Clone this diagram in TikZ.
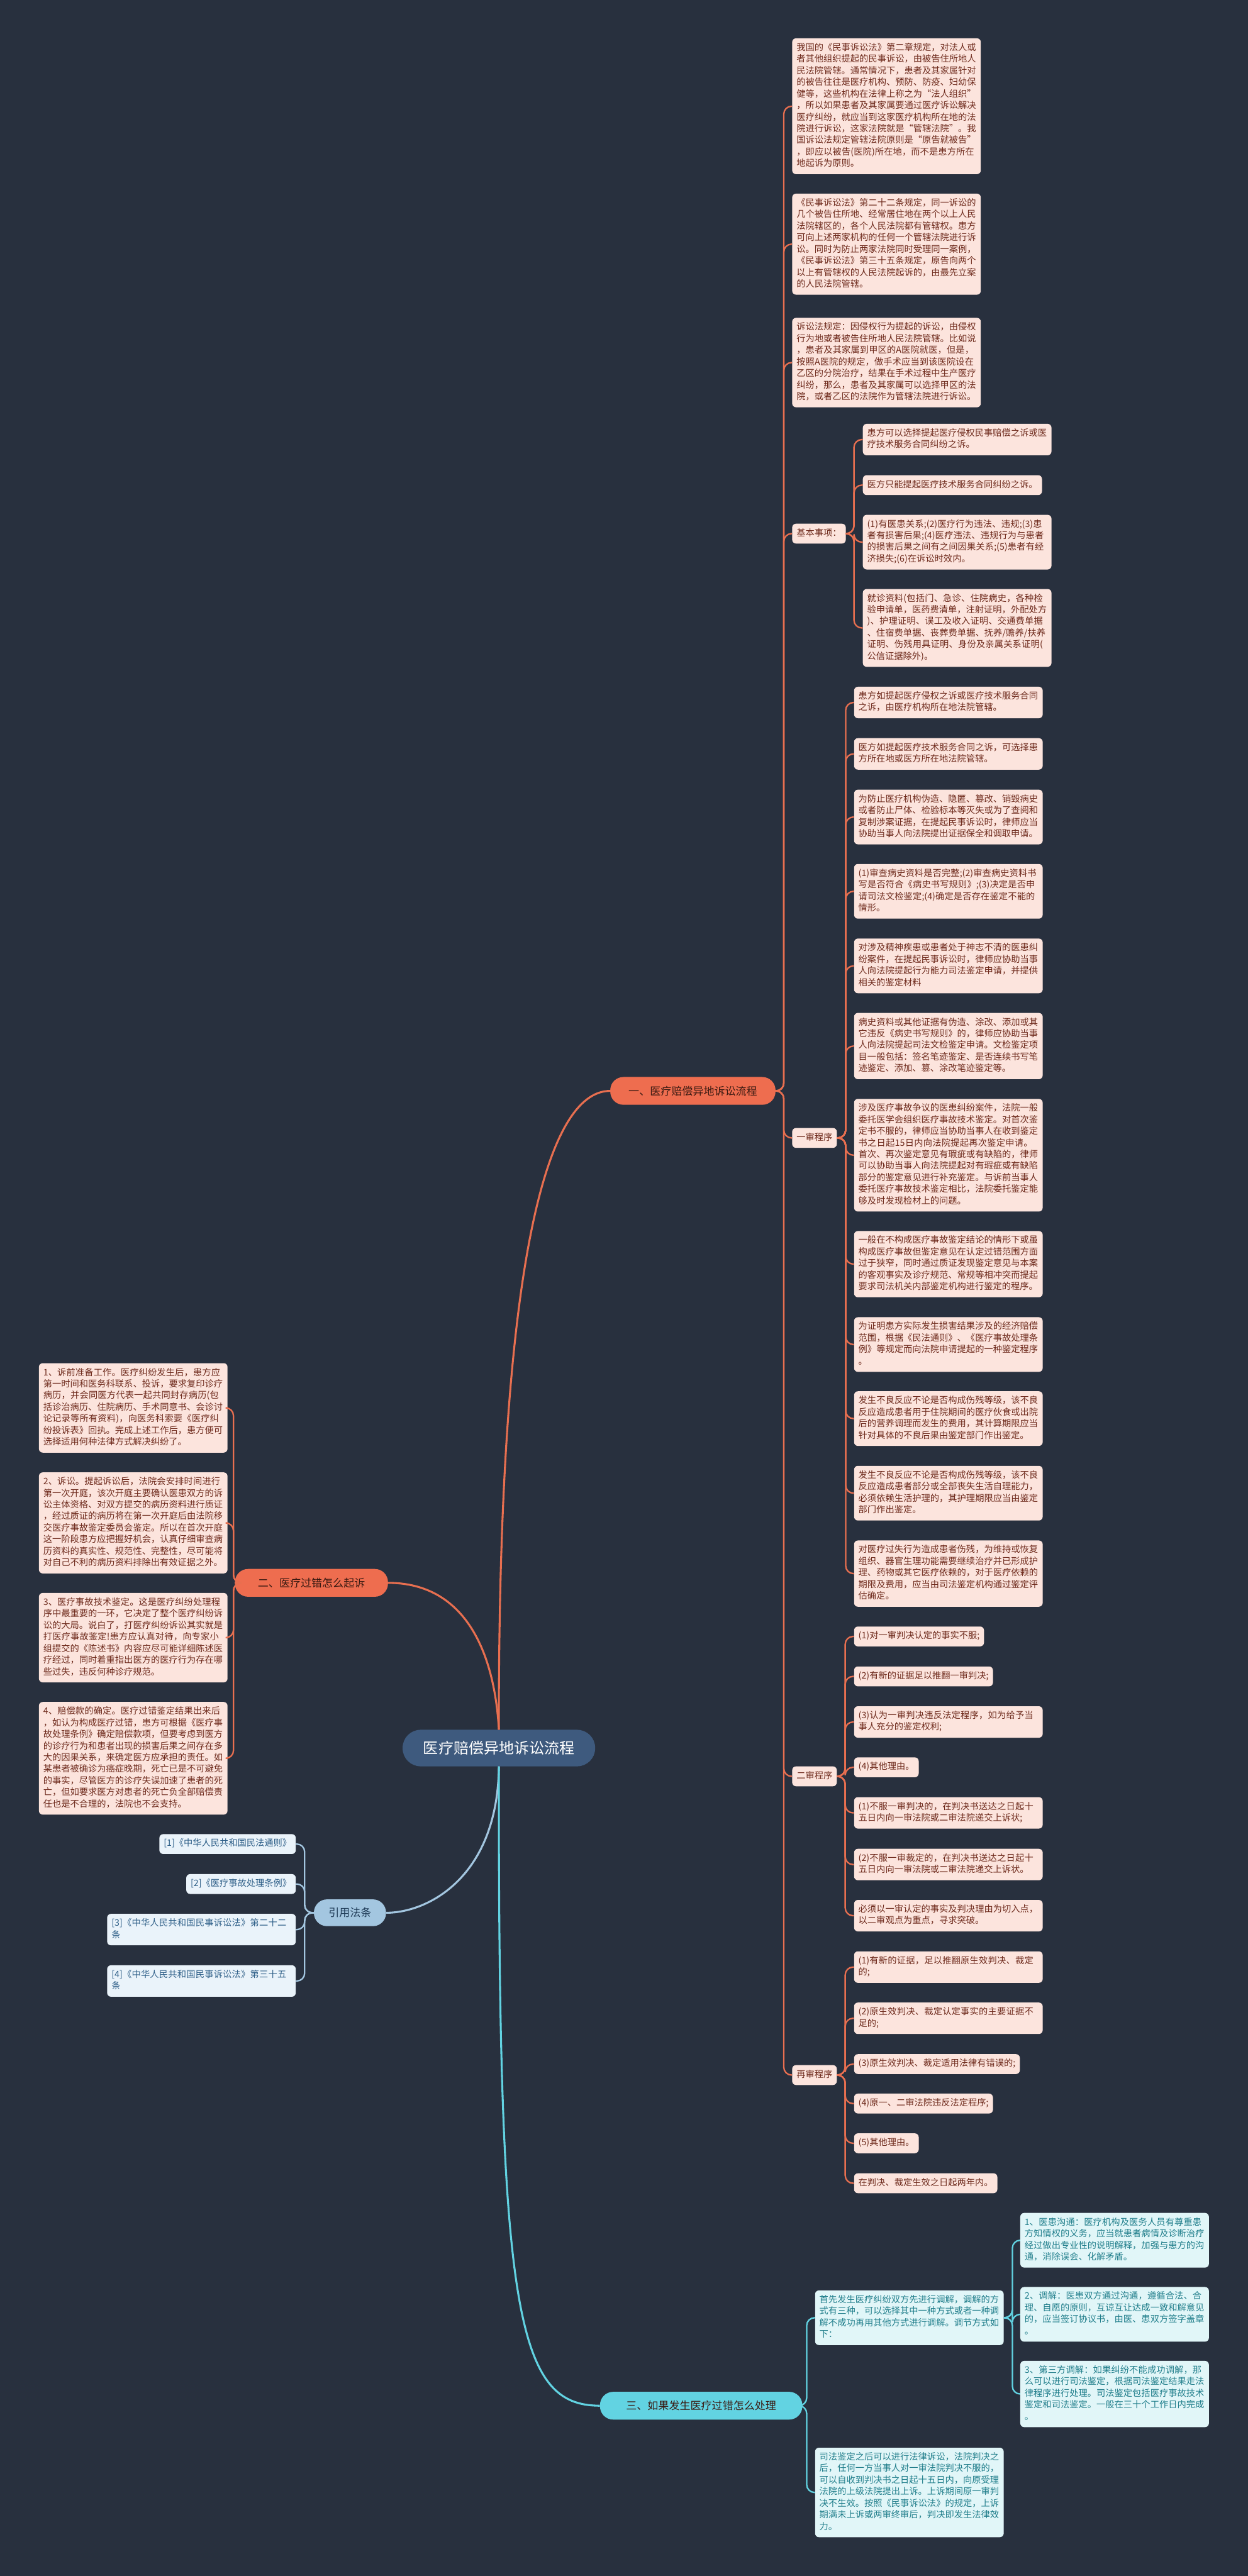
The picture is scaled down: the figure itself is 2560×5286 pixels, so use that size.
\documentclass[tikz,border=0pt]{standalone}
\usepackage{fontspec}
\setmainfont{Noto Sans CJK SC}
% allow a break between any two CJK characters, punctuation included (as in the reference)
\XeTeXinterchartokenstate=1
\newXeTeXintercharclass\cjkc
\newcount\cjkn
\def\setcjkrange#1#2{\cjkn=#1\relax\loop\XeTeXcharclass\cjkn=\cjkc\relax\ifnum\cjkn<#2\advance\cjkn by 1\repeat}
\setcjkrange{"4E00}{"9FFF}
\setcjkrange{"3000}{"303F}
\setcjkrange{"FF00}{"FFEF}
\XeTeXcharclass"201C=\cjkc
\XeTeXcharclass"201D=\cjkc
\XeTeXinterchartoks\cjkc\cjkc={\hskip0pt plus 1pt\relax}
\XeTeXinterchartoks 0 \cjkc={\hskip0pt plus 1pt\relax}
\XeTeXinterchartoks\cjkc 0 ={\hskip0pt plus 1pt\relax}
\tolerance=2000
\definecolor{bg}{HTML}{28303E}
\definecolor{org}{HTML}{EE6D4F}
\definecolor{orgline}{HTML}{E86F50}
\definecolor{pinkfill}{HTML}{FCE4DD}
\definecolor{pinktext}{HTML}{6E2A1C}
\definecolor{darktext}{HTML}{3A1A12}
\definecolor{cyanb}{HTML}{62D3E2}
\definecolor{cyanfill}{HTML}{E1F6F8}
\definecolor{cyantext}{HTML}{207E8B}
\definecolor{bluel}{HTML}{A3C6E0}
\definecolor{bluefill}{HTML}{EAF3FA}
\definecolor{bluetext}{HTML}{2E5F88}
\definecolor{bluedark}{HTML}{1F3B57}
\definecolor{centerfill}{HTML}{3E5A7E}
\tikzset{
  leaf/.style={rectangle, rounded corners=8pt, fill=pinkfill, text=pinktext,
    font=\fontsize{18.4}{23.8}\selectfont, inner xsep=9pt, inner ysep=8.5pt,
    align=left, anchor=west, execute at begin node=\strut, execute at end node=\strut},
  wide/.style={text width=369pt},
  cyanleaf/.style={leaf, fill=cyanfill, text=cyantext},
  blueleaf/.style={leaf, fill=bluefill, text=bluetext},
  pill/.style={rectangle, rounded corners=27pt, fill=org, text=darktext,
    font=\fontsize{22}{26}\selectfont, minimum height=57pt, inner sep=0pt},
  eorg/.style={draw=orgline, line width=3pt, rounded corners=16pt},
  ecyan/.style={draw=cyanb, line width=3pt, rounded corners=16pt},
  eblue/.style={draw=bluel, line width=3pt, rounded corners=16pt},
  emain/.style={line width=4pt},
}
\begin{document}
\begin{tikzpicture}[x=1pt,y=-1pt]
\fill[bg] (0,0) rectangle (2560,5286);
\useasboundingbox (0,0) rectangle (2560,5286);

% ---------- centre and main branches
\node[rectangle, rounded corners=37pt, fill=centerfill, text=white, minimum width=395pt,
  minimum height=75pt, inner sep=0pt, font=\fontsize{31}{36}\selectfont] (c) at (1023.5,3587) {医疗赔偿异地诉讼流程};
\node[pill, minimum width=339pt] (b1) at (1421.5,2238.5) {一、医疗赔偿异地诉讼流程};
\node[pill, minimum width=314pt] (b2) at (639,3248) {二、医疗过错怎么起诉};
\node[pill, minimum width=415pt, fill=cyanb] (b3) at (1438.5,4936.5) {三、如果发生医疗过错怎么处理};
\node[pill, minimum width=148pt, minimum height=55pt, fill=bluel, text=bluedark] (b4) at (718,3925) {引用法条};

\draw[orgline, emain] (c.north) .. controls (1022,2600) and (1120,2238.5) .. (b1.west);
\draw[orgline, emain] (c.north) .. controls (1015,3400) and (960,3248) .. (b2.east);
\draw[bluel, emain] (c.south) .. controls (1021,3850) and (880,3925) .. (b4.east);
\draw[cyanb, emain] (c.south) .. controls (1022,4750) and (1060,4936.5) .. (b3.west);

% ---------- branch 1 : top leaves
\node[leaf,wide] (a1) at (1625,218) {我国的《民事诉讼法》第二章规定，对法人或者其他组织提起的民事诉讼，由被告住所地人民法院管辖。通常情况下，患者及其家属针对的被告往往是医疗机构、预防、防疫、妇幼保健等，这些机构在法律上称之为“法人组织”，所以如果患者及其家属要通过医疗诉讼解决医疗纠纷，就应当到这家医疗机构所在地的法院进行诉讼，这家法院就是“管辖法院”。我国诉讼法规定管辖法院原则是“原告就被告”，即应以被告(医院)所在地，而不是患方所在地起诉为原则。};
\node[leaf,wide] (a2) at (1625,501) {《民事诉讼法》第二十二条规定，同一诉讼的几个被告住所地、经常居住地在两个以上人民法院辖区的，各个人民法院都有管辖权。患方可向上述两家机构的任何一个管辖法院进行诉讼。同时为防止两家法院同时受理同一案例，《民事诉讼法》第三十五条规定，原告向两个以上有管辖权的人民法院起诉的，由最先立案的人民法院管辖。};
\node[leaf,wide] (a3) at (1625,744) {诉讼法规定：因侵权行为提起的诉讼，由侵权行为地或者被告住所地人民法院管辖。比如说，患者及其家属到甲区的A医院就医，但是，按照A医院的规定，做手术应当到该医院设在乙区的分院治疗，结果在手术过程中生产医疗纠纷，那么，患者及其家属可以选择甲区的法院，或者乙区的法院作为管辖法院进行诉讼。};
\foreach \n in {a1,a2,a3} \draw[eorg] (b1.east) -- (1608,2238.5) |- (\n.west);

% ---------- 基本事项
\node[leaf] (kb) at (1625,1095) {基本事项：};
\draw[eorg] (b1.east) -- (1608,2238.5) |- (kb.west);
\node[leaf,wide] (k1) at (1770,902) {患方可以选择提起医疗侵权民事赔偿之诉或医疗技术服务合同纠纷之诉。};
\node[leaf] (k2) at (1770,995.5) {医方只能提起医疗技术服务合同纠纷之诉。};
\node[leaf,wide] (k3) at (1770,1112.5) {(1)有医患关系;(2)医疗行为违法、违规;(3)患者有损害后果;(4)医疗违法、违规行为与患者的损害后果之间有之间因果关系;(5)患者有经济损失;(6)在诉讼时效内。};
\node[leaf,wide] (k4) at (1770,1288.5) {就诊资料(包括门、急诊、住院病史，各种检验申请单，医药费清单，注射证明，外配处方)、护理证明、误工及收入证明、交通费单据、住宿费单据、丧葬费单据、抚养/赡养/扶养证明、伤残用具证明、身份及亲属关系证明(公信证据除外)。};
\foreach \n in {k1,k2,k3,k4} \draw[eorg] (kb.east) -- (1752,1095) |- (\n.west);

% ---------- 一审程序
\node[leaf] (yb) at (1625,2335) {一审程序};
\draw[eorg] (b1.east) -- (1608,2238.5) |- (yb.west);
\node[leaf,wide] (y1) at (1752,1441.5) {患方如提起医疗侵权之诉或医疗技术服务合同之诉，由医疗机构所在地法院管辖。};
\node[leaf,wide] (y2) at (1752,1547) {医方如提起医疗技术服务合同之诉，可选择患方所在地或医方所在地法院管辖。};
\node[leaf,wide] (y3) at (1752,1676.5) {为防止医疗机构伪造、隐匿、篡改、销毁病史或者防止尸体、检验标本等灭失或为了查阅和复制涉案证据，在提起民事诉讼时，律师应当协助当事人向法院提出证据保全和调取申请。};
\node[leaf,wide] (y4) at (1752,1829) {(1)审查病史资料是否完整;(2)审查病史资料书写是否符合《病史书写规则》;(3)决定是否申请司法文检鉴定;(4)确定是否存在鉴定不能的情形。};
\node[leaf,wide] (y5) at (1752,1982) {对涉及精神疾患或患者处于神志不清的医患纠纷案件，在提起民事诉讼时，律师应协助当事人向法院提起行为能力司法鉴定申请，并提供相关的鉴定材料};
\node[leaf,wide] (y6) at (1752,2146.5) {病史资料或其他证据有伪造、涂改、添加或其它违反《病史书写规则》的，律师应协助当事人向法院提起司法文检鉴定申请。文检鉴定项目一般包括：签名笔迹鉴定、是否连续书写笔迹鉴定、添加、篡、涂改笔迹鉴定等。};
\node[leaf,wide] (y7) at (1752,2370.5) {涉及医疗事故争议的医患纠纷案件，法院一般委托医学会组织医疗事故技术鉴定。对首次鉴定书不服的，律师应当协助当事人在收到鉴定书之日起15日内向法院提起再次鉴定申请。首次、再次鉴定意见有瑕疵或有缺陷的，律师可以协助当事人向法院提起对有瑕疵或有缺陷部分的鉴定意见进行补充鉴定。与诉前当事人委托医疗事故技术鉴定相比，法院委托鉴定能够及时发现检材上的问题。};
\node[leaf,wide] (y8) at (1752,2594) {一般在不构成医疗事故鉴定结论的情形下或虽构成医疗事故但鉴定意见在认定过错范围方面过于狭窄，同时通过质证发现鉴定意见与本案的客观事实及诊疗规范、常规等相冲突而提起要求司法机关内部鉴定机构进行鉴定的程序。};
\node[leaf,wide] (y9) at (1752,2759) {为证明患方实际发生损害结果涉及的经济赔偿范围，根据《民法通则》、《医疗事故处理条例》等规定而向法院申请提起的一种鉴定程序。};
\node[leaf,wide] (y10) at (1752,2911) {发生不良反应不论是否构成伤残等级，该不良反应造成患者用于住院期间的医疗伙食或出院后的营养调理而发生的费用，其计算期限应当针对具体的不良后果由鉴定部门作出鉴定。};
\node[leaf,wide] (y11) at (1752,3064) {发生不良反应不论是否构成伤残等级，该不良反应造成患者部分或全部丧失生活自理能力，必须依赖生活护理的，其护理期限应当由鉴定部门作出鉴定。};
\node[leaf,wide] (y12) at (1752,3229) {对医疗过失行为造成患者伤残，为维持或恢复组织、器官生理功能需要继续治疗并已形成护理、药物或其它医疗依赖的，对于医疗依赖的期限及费用，应当由司法鉴定机构通过鉴定评估确定。};
\foreach \n in {y1,y2,y3,y4,y5,y6,y7,y8,y9,y10,y11,y12} \draw[eorg] (yb.east) -- (1735,2335) |- (\n.west);

% ---------- 二审程序
\node[leaf] (eb) at (1625,3645) {二审程序};
\draw[eorg] (b1.east) -- (1608,2238.5) |- (eb.west);
\node[leaf] (e1) at (1752,3358) {(1)对一审判决认定的事实不服;};
\node[leaf] (e2) at (1752,3440) {(2)有新的证据足以推翻一审判决;};
\node[leaf,wide] (e3) at (1752,3533.5) {(3)认为一审判决违反法定程序，如为给予当事人充分的鉴定权利;};
\node[leaf] (e4) at (1752,3626.5) {(4)其他理由。};
\node[leaf,wide] (e5) at (1752,3720) {(1)不服一审判决的，在判决书送达之日起十五日内向一审法院或二审法院递交上诉状;};
\node[leaf,wide] (e6) at (1752,3826) {(2)不服一审裁定的，在判决书送达之日起十五日内向一审法院或二审法院递交上诉状。};
\node[leaf,wide] (e7) at (1752,3931) {必须以一审认定的事实及判决理由为切入点，以二审观点为重点，寻求突破。};
\foreach \n in {e1,e2,e3,e4,e5,e6,e7} \draw[eorg] (eb.east) -- (1734,3645) |- (\n.west);

% ---------- 再审程序
\node[leaf] (zb) at (1625,4258) {再审程序};
\draw[eorg] (b1.east) -- (1608,2238.5) |- (zb.west);
\node[leaf,wide] (z1) at (1752,4036.5) {(1)有新的证据，足以推翻原生效判决、裁定的;};
\node[leaf,wide] (z2) at (1752,4141.5) {(2)原生效判决、裁定认定事实的主要证据不足的;};
\node[leaf] (z3) at (1752,4235.5) {(3)原生效判决、裁定适用法律有错误的;};
\node[leaf] (z4) at (1752,4316.5) {(4)原一、二审法院违反法定程序;};
\node[leaf] (z5) at (1752,4398) {(5)其他理由。};
\node[leaf] (z6) at (1752,4480) {在判决、裁定生效之日起两年内。};
\foreach \n in {z1,z2,z3,z4,z5,z6} \draw[eorg] (zb.east) -- (1734,4258) |- (\n.west);

% ---------- branch 2
\node[leaf,wide,anchor=east] (l1) at (467,2889) {1、诉前准备工作。医疗纠纷发生后，患方应第一时间和医务科联系、投诉，要求复印诊疗病历，并会同医方代表一起共同封存病历(包括诊治病历、住院病历、手术同意书、会诊讨论记录等所有资料)，向医务科索要《医疗纠纷投诉表》回执。完成上述工作后，患方便可选择适用何种法律方式解决纠纷了。};
\node[leaf,wide,anchor=east] (l2) at (467,3125) {2、诉讼。提起诉讼后，法院会安排时间进行第一次开庭，该次开庭主要确认医患双方的诉讼主体资格、对双方提交的病历资料进行质证，经过质证的病历将在第一次开庭后由法院移交医疗事故鉴定委员会鉴定。所以在首次开庭这一阶段患方应把握好机会，认真仔细审查病历资料的真实性、规范性、完整性，尽可能将对自己不利的病历资料排除出有效证据之外。};
\node[leaf,wide,anchor=east] (l3) at (467,3360.5) {3、医疗事故技术鉴定。这是医疗纠纷处理程序中最重要的一环，它决定了整个医疗纠纷诉讼的大局。说白了，打医疗纠纷诉讼其实就是打医疗事故鉴定!患方应认真对待，向专家小组提交的《陈述书》内容应尽可能详细陈述医疗经过，同时着重指出医方的医疗行为存在哪些过失，违反何种诊疗规范。};
\node[leaf,wide,anchor=east] (l4) at (467,3608) {4、赔偿款的确定。医疗过错鉴定结果出来后，如认为构成医疗过错，患方可根据《医疗事故处理条例》确定赔偿款项，但要考虑到医方的诊疗行为和患者出现的损害后果之间存在多大的因果关系，来确定医方应承担的责任。如某患者被确诊为癌症晚期，死亡已是不可避免的事实，尽管医方的诊疗失误加速了患者的死亡，但如要求医方对患者的死亡负全部赔偿责任也是不合理的，法院也不会支持。};
\foreach \n in {l1,l2,l3,l4} \draw[eorg] (b2.west) -- (479,3248) |- (\n.east);

% ---------- 引用法条
\node[blueleaf,anchor=east] (r1) at (607,3784) {[1]《中华人民共和国民法通则》};
\node[blueleaf,anchor=east] (r2) at (607,3866) {[2]《医疗事故处理条例》};
\node[blueleaf,wide,anchor=east] (r3) at (607,3959.5) {[3]《中华人民共和国民事诉讼法》第二十二条};
\node[blueleaf,wide,anchor=east] (r4) at (607,4065) {[4]《中华人民共和国民事诉讼法》第三十五条};
\foreach \n in {r1,r2,r3,r4} \draw[eblue] (b4.west) -- (625,3925) |- (\n.east);

% ---------- branch 3
\node[cyanleaf,wide] (s1) at (1672,4756) {首先发生医疗纠纷双方先进行调解，调解的方式有三种，可以选择其中一种方式或者一种调解不成功再用其他方式进行调解。调节方式如下：};
\node[cyanleaf,wide] (s2) at (1672,5114.5) {司法鉴定之后可以进行法律诉讼，法院判决之后，任何一方当事人对一审法院判决不服的，可以自收到判决书之日起十五日内，向原受理法院的上级法院提出上诉。上诉期间原一审判决不生效。按照《民事诉讼法》的规定，上诉期满未上诉或两审终审后，判决即发生法律效力。};
\foreach \n in {s1,s2} \draw[ecyan] (b3.east) -- (1655,4936.5) |- (\n.west);
\node[cyanleaf,wide] (t1) at (2093,4597) {1、医患沟通：医疗机构及医务人员有尊重患方知情权的义务，应当就患者病情及诊断治疗经过做出专业性的说明解释，加强与患方的沟通，消除误会、化解矛盾。};
\node[cyanleaf,wide] (t2) at (2093,4749) {2、调解：医患双方通过沟通，遵循合法、合理、自愿的原则，互谅互让达成一致和解意见的，应当签订协议书，由医、患双方签字盖章。};
\node[cyanleaf,wide] (t3) at (2093,4912.5) {3、第三方调解：如果纠纷不能成功调解，那么可以进行司法鉴定，根据司法鉴定结果走法律程序进行处理。司法鉴定包括医疗事故技术鉴定和司法鉴定。一般在三十个工作日内完成。};
\foreach \n in {t1,t2,t3} \draw[ecyan] (s1.east) -- (2077,4756) |- (\n.west);
\end{tikzpicture}
\end{document}
